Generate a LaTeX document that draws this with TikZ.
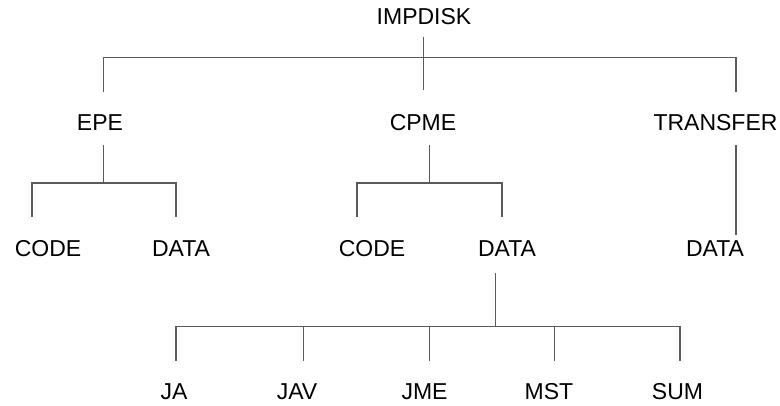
\documentclass[tikz,border=0pt]{standalone}
\usepackage{fontspec}
\setmainfont{Liberation Sans}
\usetikzlibrary{calc, positioning}
\definecolor{treegrey}{rgb}{0.35, 0.35, 0.35}
\newcommand{\treefont}{\fontsize{17.25}{20}\selectfont}

\begin{document}
\begin{tikzpicture}[x=0.75pt, y=-0.75pt,
        lbl/.style={inner sep=0pt, anchor=center, font=\treefont},
        branch/.style={draw=treegrey, line width=0.9pt}]
            \useasboundingbox (0, 0) rectangle (780, 406);

            % labels
            \node [lbl] (impdisk)  at (424, 16.5)   { IMPDISK };
            \node [lbl] (epe)      at (100, 123)    { EPE };
            \node [lbl] (cpme)     at (423, 123)    { CPME };
            \node [lbl] (transfer) at (715.5, 123)  { TRANSFER };
            \node [lbl] (epecode)  at (48, 249)     { CODE };
            \node [lbl] (epedata)  at (181, 249)    { DATA };
            \node [lbl] (cpmecode) at (372, 249)    { CODE };
            \node [lbl] (cpmedata) at (507, 249)    { DATA };
            \node [lbl] (trfdata)  at (715, 249)    { DATA };
            \node [lbl] (ja)       at (174, 392)    { JA };
            \node [lbl] (jav)      at (297, 392)    { JAV };
            \node [lbl] (jme)      at (424.5, 392)  { JME };
            \node [lbl] (mst)      at (549, 392)    { MST };
            \node [lbl] (sum)      at (677.5, 392)  { SUM };

            % line ends
            \coordinate (impdisk out) at (423.3, 36.7);
            \coordinate (impdisk bar) at (423.3, 57.7);
            \coordinate (epe in)      at (103.3, 92);
            \coordinate (cpme in)     at (423.3, 90);
            \coordinate (transfer in) at (736, 92);

            \coordinate (epe out)     at (103.3, 145);
            \coordinate (epe bar)     at (103.3, 183);
            \coordinate (epecode in)  at (32, 217);
            \coordinate (epedata in)  at (176, 217);

            \coordinate (cpme out)    at (429.3, 145);
            \coordinate (cpme bar)    at (429.3, 183);
            \coordinate (cpmecode in) at (357, 217);
            \coordinate (cpmedata in) at (502, 217);

            \coordinate (transfer out) at (736, 145);
            \coordinate (trfdata in)   at (736, 235);

            \coordinate (cpmedata out) at (495.7, 273);
            \coordinate (cpmedata bar) at (495.7, 326.7);
            \coordinate (ja in)  at (176, 361);
            \coordinate (jav in) at (303.7, 361);
            \coordinate (jme in) at (429.3, 361);
            \coordinate (mst in) at (554.3, 361);
            \coordinate (sum in) at (680, 361);

            % IMPDISK
            \draw [branch] (impdisk out) -- (impdisk bar);
            \draw [branch] (epe in) -- (epe in |- impdisk bar) -- (transfer in |- impdisk bar) -- (transfer in);
            \draw [branch] (impdisk bar) -- (cpme in);

            % EPE
            \draw [branch] (epe out) -- (epe bar);
            \draw [branch] (epecode in) -- (epecode in |- epe bar) -- (epedata in |- epe bar) -- (epedata in);

            % CPME
            \draw [branch] (cpme out) -- (cpme bar);
            \draw [branch] (cpmecode in) -- (cpmecode in |- cpme bar) -- (cpmedata in |- cpme bar) -- (cpmedata in);

            % TRANSFER
            \draw [branch] (transfer out) -- (trfdata in);

            % CPME DATA
            \draw [branch] (cpmedata out) -- (cpmedata bar);
            \draw [branch] (ja in) -- (ja in |- cpmedata bar) -- (sum in |- cpmedata bar) -- (sum in);
            \draw [branch] (jav in |- cpmedata bar) -- (jav in);
            \draw [branch] (jme in |- cpmedata bar) -- (jme in);
            \draw [branch] (mst in |- cpmedata bar) -- (mst in);

        \end{tikzpicture}
\end{document}
